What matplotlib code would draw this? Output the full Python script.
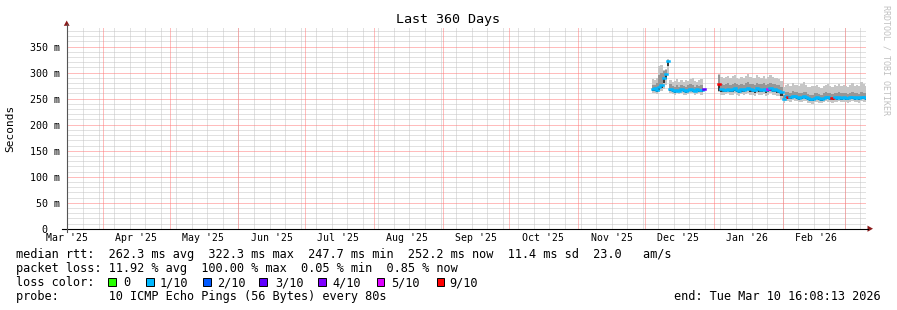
import matplotlib
matplotlib.use("Agg")
import matplotlib.pyplot as plt
import numpy as np
import pandas as pd
from matplotlib.lines import Line2D
from matplotlib.patches import Polygon, Rectangle

W, H = 897, 310
MONO = "DejaVu Sans Mono"

end_time = pd.Timestamp("2026-03-10 16:08:13")
start_time = end_time - pd.Timedelta(days=360)

# daily samples from 2025-12-04 to 2026-03-10 (ms), nan = no data
first_day = "2025-12-04"
nan = np.nan
median_rtt = [
    268, 270, 267, 272, 276, 290, 298, 322, 269, 266, 264, 267, 265, 268,
    266, 264, 267, 269, 266, 265, 268, 266, 267, 268, nan, nan, nan, nan,
    nan, nan, 278, 268, 266, 267, 269, 266, 268, 270, 267, 265, 268, 266,
    269, 271, 268, 267, 266, 270, 268, 267, 269, 266, 268, 270, 267, 268,
    266, 265, 262,
    250, 255, 254, 253, 256, 255, 254, 252, 253, 255, 254, 251, 250, 249,
    252, 253, 251, 250, 252, 254, 253, 252, 251, 253, 252, 254, 252, 253,
    252, 251, 253, 254, 252, 253, 251, 254, 253, 252,
]
smoke_max = [
    288, 286, 290, 312, 315, 306, 308, 326, 286, 282, 284, 288, 283, 285,
    282, 286, 284, 288, 290, 284, 283, 286, 287, 284, nan, nan, nan, nan,
    nan, nan, 298, 292, 289, 291, 294, 290, 293, 296, 290, 288, 292, 289,
    294, 297, 291, 289, 290, 295, 292, 290, 293, 288, 291, 296, 292, 290,
    289, 287, 284,
    272, 276, 278, 275, 280, 277, 276, 274, 278, 283, 276, 273, 272, 274,
    275, 277, 273, 271, 274, 276, 279, 274, 272, 276, 274, 278, 275, 276,
    274, 273, 276, 280, 275, 277, 274, 282, 278, 275,
]
smoke_min = [
    260, 261, 259, 262, 264, 268, 276, 300, 260, 259, 258, 260, 259, 261,
    258, 257, 259, 261, 260, 258, 259, 260, 258, 260, nan, nan, nan, nan,
    nan, nan, 262, 258, 257, 259, 260, 257, 258, 260, 258, 256, 259, 257,
    259, 261, 258, 257, 256, 260, 258, 257, 259, 256, 258, 260, 257, 258,
    256, 255, 250,
    242, 246, 245, 244, 247, 246, 245, 243, 244, 246, 245, 242, 241, 240,
    243, 244, 242, 241, 243, 245, 244, 243, 242, 244, 243, 245, 243, 244,
    243, 242, 244, 245, 243, 244, 242, 245, 244, 243,
]
inner_hi = [
    276, 277, 280, 296, 300, 304, 306, 325, 278, 274, 272, 276, 273, 276,
    274, 273, 276, 278, 276, 273, 276, 275, 276, 277, nan, nan, nan, nan,
    nan, nan, 295, 278, 276, 278, 280, 277, 279, 281, 278, 276, 279, 277,
    280, 282, 279, 278, 277, 281, 279, 278, 280, 277, 279, 281, 278, 279,
    277, 276, 272,
    258, 262, 262, 261, 264, 263, 262, 260, 261, 263, 262, 259, 258, 257,
    260, 261, 259, 258, 260, 262, 261, 260, 259, 261, 260, 262, 260, 261,
    260, 259, 261, 262, 260, 261, 259, 262, 261, 260,
]
inner_lo = [
    264, 265, 263, 266, 270, 280, 288, 312, 264, 262, 261, 263, 262, 264,
    262, 261, 263, 265, 263, 262, 264, 262, 263, 264, nan, nan, nan, nan,
    nan, nan, 264, 263, 262, 263, 264, 262, 263, 265, 262, 261, 263, 262,
    264, 266, 263, 262, 261, 265, 263, 262, 264, 261, 263, 265, 262, 263,
    261, 260, 256,
    247, 251, 250, 249, 252, 251, 250, 248, 249, 251, 250, 247, 246, 245,
    248, 249, 247, 246, 248, 250, 249, 248, 247, 249, 248, 250, 248, 249,
    248, 247, 249, 250, 248, 249, 247, 250, 249, 248,
]
# days whose median is not in the usual 1/10 loss colour
loss_days = ["2025-12-27", "2026-01-03", "2026-01-25", "2026-02-03", "2026-02-23"]
loss_level = ["3/10", "9/10", "5/10", "9/10", "9/10"]

loss_labels = ["0", "1/10", "2/10", "3/10", "4/10", "5/10", "9/10"]
loss_colors = ["#26ff00", "#00b8ff", "#0059ff", "#5e00ff", "#7e00ff", "#dd00ff", "#ff0000"]

y_ticks = [0, 50, 100, 150, 200, 250, 300, 350]
y_tick_labels = ["0  ", "50 m", "100 m", "150 m", "200 m", "250 m", "300 m", "350 m"]
month_labels = ["Mar '25", "Apr '25", "May '25", "Jun '25", "Jul '25", "Aug '25",
                "Sep '25", "Oct '25", "Nov '25", "Dec '25", "Jan '26", "Feb '26"]

legend_lines = [
    "median rtt:  262.3 ms avg  322.3 ms max  247.7 ms min  252.2 ms now  11.4 ms sd  23.0   am/s",
    "packet loss: 11.92 % avg  100.00 % max  0.05 % min  0.85 % now",
    "loss color:",
    "probe:       10 ICMP Echo Pings (56 Bytes) every 80s",
]
end_label = "end: Tue Mar 10 16:08:13 2026"


def fx(x):
    return x / W


def fy(y):
    return 1 - y / H


days = pd.date_range(first_day, periods=len(median_rtt), freq="D")
t = np.append(days.values, (days[-1] + pd.Timedelta(days=1)).to_datetime64())
med = np.array(median_rtt, dtype=float)


def stepped(v):
    v = np.asarray(v, dtype=float)
    return np.append(v, v[-1])


fig = plt.figure(figsize=(W / 100, H / 100), dpi=100)
fig.patch.set_facecolor("white")
ax_left, ax_right, ax_top, ax_bottom = 66.7, 866.3, 27.0, 228.7
ax = fig.add_axes([fx(ax_left), fy(ax_bottom), (ax_right - ax_left) / W,
                   (ax_bottom - ax_top) / H])
ax.set_xlim(start_time, end_time)
ax.set_ylim(0, (ax_bottom - ax_top) / 0.52)
for s in ax.spines.values():
    s.set_visible(False)

# grid (drawn first, the smoke covers it)
grid_dash = (0, (1, 1))
for v in range(10, 390, 10):
    if v % 50:
        ax.axhline(v, color="#c4c4c4", lw=0.72, ls=grid_dash, zorder=0.5)
for v in y_ticks[1:]:
    ax.axhline(v, color="#ff7a7a", lw=0.72, ls=grid_dash, zorder=0.6)
for d in pd.date_range("2025-03-16", end_time, freq="W-SUN"):
    ax.axvline(d, color="#c4c4c4", lw=0.72, ls=grid_dash, zorder=0.5)
for d in pd.date_range("2025-04-01", end_time, freq="MS"):
    ax.axvline(d, color="#ff7a7a", lw=0.72, ls=grid_dash, zorder=0.6)

# smoke: outer band, inner band, dark part just under the median
ax.fill_between(t, stepped(smoke_min), stepped(smoke_max), step="post",
                color="#c6c6c6", lw=0, zorder=1)
ax.fill_between(t, stepped(inner_lo), stepped(inner_hi), step="post",
                color="#969696", lw=0, zorder=2)
ax.fill_between(t, stepped(inner_lo), stepped(med), step="post",
                color="#3a3a3a", lw=0, zorder=2.5)

# median line coloured by loss, one flat piece per sample
colors = [loss_colors[1]] * len(days)
for d, lvl in zip(loss_days, loss_level):
    colors[days.get_loc(pd.Timestamp(d))] = loss_colors[loss_labels.index(lvl)]
ax.hlines(med, days, days + pd.Timedelta(days=1), colors=colors, lw=1.8,
          zorder=5, capstyle="projecting")

# ticks
ax.set_yticks(y_ticks)
ax.set_yticklabels(y_tick_labels, family=MONO, fontsize=7.2)
label_dates = [pd.Timestamp(f"{d.year}-{d.month:02d}-16") for d in
               pd.date_range("2025-03-01", periods=len(month_labels), freq="MS")]
ax.set_xticks(label_dates)
ax.set_xticklabels(month_labels, family=MONO, fontsize=7.1)
ax.tick_params(axis="y", length=0, pad=4.8)
ax.tick_params(axis="x", length=0, pad=3.3)

# axis lines and arrows
fig.add_artist(Line2D([fx(62), fx(868)], [fy(ax_bottom)] * 2, color="black", lw=0.8))
fig.add_artist(Line2D([fx(ax_left)] * 2, [fy(232), fy(24)], color="#555555", lw=0.8))
fig.add_artist(Polygon([[fx(63.8), fy(25.8)], [fx(69.6), fy(25.8)], [fx(66.7), fy(20.5)]],
                       closed=True, transform=fig.transFigure, color="#8b1a1a", lw=0))
fig.add_artist(Polygon([[fx(867.5), fy(225.6)], [fx(867.5), fy(231.8)], [fx(873), fy(228.7)]],
                       closed=True, transform=fig.transFigure, color="#8b1a1a", lw=0))

# titles
fig.text(fx(448), fy(23.3), "Last 360 Days", family=MONO, fontsize=9.6,
         ha="center", va="baseline")
fig.text(fx(10.7), fy(128), "Seconds", family=MONO, fontsize=8, rotation=90,
         ha="center", va="center")
fig.text(fx(886), fy(5), "RRDTOOL / TOBI OETIKER", family=MONO, fontsize=6,
         rotation=270, ha="center", va="top", color="#c0c0c0")

# legend
baselines = [258, 272, 286, 300]
for s, b in zip(legend_lines, baselines):
    fig.text(fx(15.5), fy(b), s, family=MONO, fontsize=8.52, va="baseline")
fig.text(fx(881), fy(baselines[3]), end_label, family=MONO, fontsize=8.52,
         va="baseline", ha="right")
box_x = [108.3, 146, 203, 259, 318.3, 376.7, 436.7]
text_x = [123, 159.5, 217.5, 275, 332.5, 391, 449.5]
for bx, tx, lab, col in zip(box_x, text_x, loss_labels, loss_colors):
    fig.add_artist(Rectangle((fx(bx), fy(286)), 7.5 / W, 8.5 / H,
                             transform=fig.transFigure, facecolor=col,
                             edgecolor="black", lw=0.7))
    fig.text(fx(tx), fy(baselines[2]), lab, family=MONO, fontsize=8.52, va="baseline")

fig.savefig("out.png", dpi=100, facecolor="white")
